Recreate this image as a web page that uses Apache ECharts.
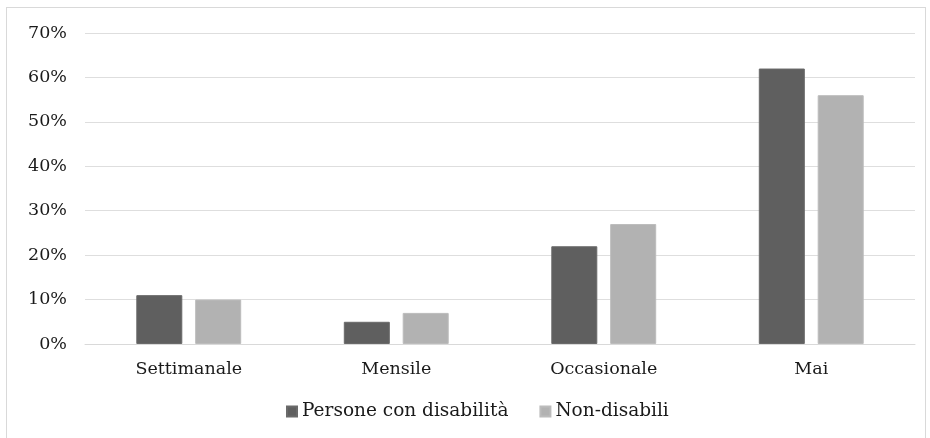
<!DOCTYPE html>
<html>
<head>
<meta charset="utf-8">
<script src="https://cdn.jsdelivr.net/npm/echarts@6/dist/echarts.min.js"></script>
<style>
  html, body { margin: 0; padding: 0; background: #fff; }
  #frame { position: absolute; left: 6px; top: 7px; width: 918px; height: 440px; border: 1px solid #d9d9d9; }
  #chart { position: absolute; left: 0; top: 0; width: 930px; height: 438px; }
</style>
</head>
<body>
<div id="frame"></div>
<div id="chart"></div>
<script>
// categorie e valori (percentuali)
var categories = ['Settimanale', 'Mensile', 'Occasionale', 'Mai'];
var disabili = [11, 5, 22, 62];
var nonDisabili = [10, 7, 27, 56];
var seriesNames = ['Persone con disabilità', 'Non-disabili'];

var font = '"DejaVu Serif", "Liberation Serif", serif';
var myChart = echarts.init(document.getElementById('chart'));
var option = {
    animation: false,
    textStyle: { fontFamily: font },
    grid: { left: 85, right: 15, top: 33, bottom: 94 },
    legend: {
        bottom: 12,
        left: 281,
        itemWidth: 10,
        itemHeight: 10,
        itemGap: 31,
        icon: 'rect',
        textStyle: { fontFamily: font, fontSize: 18.5, color: '#1a1a1a' },
        data: seriesNames
    },
    xAxis: {
        type: 'category',
        data: categories,
        axisLine: { lineStyle: { color: '#d9d9d9' } },
        axisTick: { show: false },
        axisLabel: { fontFamily: font, fontSize: 17.5, color: '#1a1a1a', margin: 16 }
    },
    yAxis: {
        type: 'value',
        min: 0,
        max: 70,
        interval: 10,
        axisLine: { show: false },
        axisTick: { show: false },
        splitLine: { lineStyle: { color: '#dedede', width: 1 } },
        axisLabel: { formatter: '{value}%', fontFamily: font, fontSize: 17.5, color: '#1a1a1a', margin: 18 }
    },
    series: [
        {
            name: seriesNames[0],
            type: 'bar',
            data: disabili,
            barWidth: 46,
            barGap: '28%',
            itemStyle: { color: '#5f5f5f', borderColor: '#6a6a6a', borderWidth: 1 }
        },
        {
            name: seriesNames[1],
            type: 'bar',
            data: nonDisabili,
            barWidth: 46,
            itemStyle: { color: '#b2b2b2', borderColor: '#bcbcbc', borderWidth: 1 }
        }
    ]
};
myChart.setOption(option);
</script>
</body>
</html>
